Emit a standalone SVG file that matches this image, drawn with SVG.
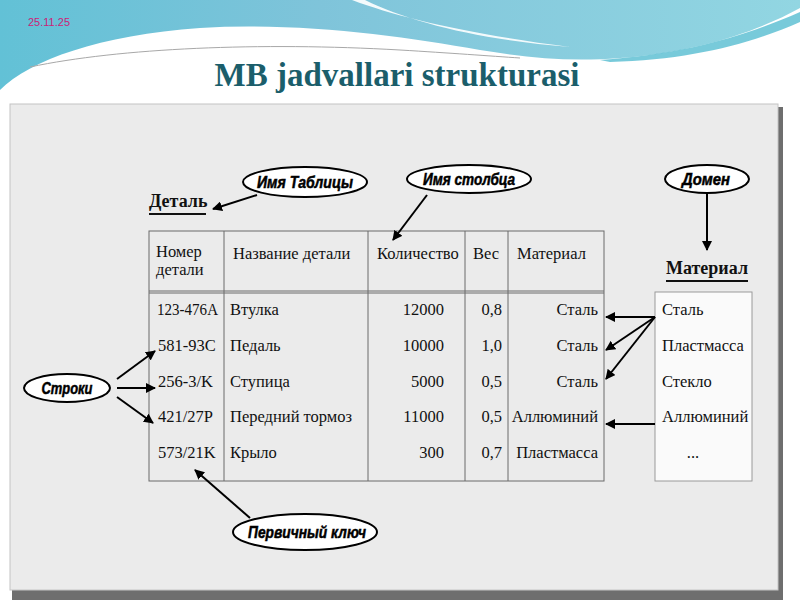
<svg xmlns="http://www.w3.org/2000/svg" width="800" height="600" viewBox="0 0 800 600">
<defs>
<linearGradient id="sky" x1="0" y1="0" x2="1" y2="0">
<stop offset="0" stop-color="#62c1d6"/>
<stop offset="0.4" stop-color="#7fc4da"/>
<stop offset="1" stop-color="#92d6e2"/>
</linearGradient>
<marker id="ah" viewBox="0 0 10 10" refX="9" refY="5" markerWidth="5" markerHeight="5" orient="auto" markerUnits="strokeWidth">
<path d="M0,0 L10,5 L0,10 Z" fill="#000"/>
</marker>
<style>
.conn{stroke:#000;stroke-width:2;fill:none;marker-end:url(#ah)}
.ell{fill:#fff;stroke:#000;stroke-width:2}
.et{font-family:"Liberation Sans",Arial,sans-serif;font-weight:bold;font-style:italic;font-size:16px;fill:#000;stroke:#000;stroke-width:0.5;text-anchor:middle}
.tt{font-family:"Liberation Serif","Times New Roman",serif;font-size:16.5px;fill:#111}
.r{text-anchor:end}
.lbl{font-family:"Liberation Serif","Times New Roman",serif;font-size:18px;font-weight:bold;fill:#111}
.grid{stroke:#6a6a6a;stroke-width:1;fill:none}
</style>
</defs>
<!-- background -->
<rect x="0" y="0" width="800" height="600" fill="#ffffff"/>
<path d="M0,0 H800 V8 C760,30 700,52 620,58 C570,62 530,58 480,50 C400,36 300,22 200,28 C100,35 30,60 0,90 Z" fill="url(#sky)"/>
<path d="M600,60 C690,54 750,34 800,12 V22 C750,44 690,60 610,62 Z" fill="#3fb3ca" opacity="0.7"/>
<path d="M352,0 C400,18 470,34 570,47 C480,40 410,22 365,0 Z" fill="#ffffff" opacity="0.9"/>
<path d="M30,67 C120,48 260,42 400,50 C450,53 490,56 520,58" fill="none" stroke="#a8a8a8" stroke-width="1"/>
<text x="28" y="26" font-family="'Liberation Sans',Arial,sans-serif" font-size="11" fill="#cc2277">25.11.25</text>
<text x="397" y="86" text-anchor="middle" font-family="'Liberation Serif','Times New Roman',serif" font-size="33" font-weight="bold" fill="#1b5e6b">MB jadvallari strukturasi</text>
<!-- panel -->
<rect x="12" y="107" width="771" height="493" fill="#6e6e6e"/>
<rect x="10" y="104" width="768" height="486" fill="#ebebeb" stroke="#c4c4c4" stroke-width="1"/>
<!-- labels -->
<g id="detal">
<text class="lbl" x="149" y="207">Деталь</text>
<line x1="149" y1="214" x2="206" y2="214" stroke="#111" stroke-width="2"/>
</g>
<g id="material-label">
<text class="lbl" x="666" y="274">Материал</text>
<line x1="666" y1="281" x2="748" y2="281" stroke="#111" stroke-width="2"/>
</g>
<!-- table -->
<g id="table">
<rect x="149" y="231" width="455" height="250" fill="#ececec" class="grid"/>
<line class="grid" x1="149" y1="291" x2="604" y2="291"/>
<line class="grid" x1="149" y1="293" x2="604" y2="293"/>
<line class="grid" x1="224" y1="231" x2="224" y2="481"/>
<line class="grid" x1="368" y1="231" x2="368" y2="481"/>
<line class="grid" x1="465" y1="231" x2="465" y2="481"/>
<line class="grid" x1="508" y1="231" x2="508" y2="481"/>
<text class="tt" x="156" y="257" font-size="15">Номер</text>
<text class="tt" x="156" y="275" font-size="15">детали</text>
<text class="tt" x="233" y="259">Название детали</text>
<text class="tt" x="377" y="259">Количество</text>
<text class="tt" x="473" y="259">Вес</text>
<text class="tt" x="517" y="259">Материал</text>
<text class="tt" x="157" y="315" textLength="61" lengthAdjust="spacingAndGlyphs">123-476A</text>
<text class="tt" x="158" y="351">581-93C</text>
<text class="tt" x="158" y="387">256-3/K</text>
<text class="tt" x="158" y="422">421/27P</text>
<text class="tt" x="158" y="458">573/21K</text>
<text class="tt" x="230" y="315">Втулка</text>
<text class="tt" x="230" y="351">Педаль</text>
<text class="tt" x="230" y="387">Ступица</text>
<text class="tt" x="230" y="422">Передний тормоз</text>
<text class="tt" x="230" y="458">Крыло</text>
<text class="tt r" x="444" y="315">12000</text>
<text class="tt r" x="444" y="351">10000</text>
<text class="tt r" x="444" y="387">5000</text>
<text class="tt r" x="444" y="422">11000</text>
<text class="tt r" x="444" y="458">300</text>
<text class="tt r" x="502" y="315">0,8</text>
<text class="tt r" x="502" y="351">1,0</text>
<text class="tt r" x="502" y="387">0,5</text>
<text class="tt r" x="502" y="422">0,5</text>
<text class="tt r" x="502" y="458">0,7</text>
<text class="tt r" x="598" y="315">Сталь</text>
<text class="tt r" x="598" y="351">Сталь</text>
<text class="tt r" x="598" y="387">Сталь</text>
<text class="tt r" x="598" y="422">Аллюминий</text>
<text class="tt r" x="598" y="458">Пластмасса</text>
</g>
<g id="domain">
<rect x="655" y="292" width="97" height="189" fill="#fafafa" stroke="#9a9a9a" stroke-width="1"/>
<text class="tt" x="662" y="315">Сталь</text>
<text class="tt" x="662" y="351">Пластмасса</text>
<text class="tt" x="662" y="387">Стекло</text>
<text class="tt" x="662" y="422">Аллюминий</text>
<text class="tt" x="693" y="458" text-anchor="middle">...</text>
</g>
<!-- callouts -->
<g id="imya-tablicy">
<ellipse class="ell" cx="305" cy="182" rx="62" ry="15"/>
<text class="et" x="305" y="188" textLength="96" lengthAdjust="spacingAndGlyphs">Имя Таблицы</text>
</g>
<g id="imya-stolbca">
<ellipse class="ell" cx="469" cy="179" rx="62" ry="14"/>
<text class="et" x="469" y="185" textLength="92" lengthAdjust="spacingAndGlyphs">Имя столбца</text>
</g>
<g id="domen">
<ellipse class="ell" cx="707" cy="179" rx="42" ry="14"/>
<text class="et" x="706" y="185" textLength="48" lengthAdjust="spacingAndGlyphs">Домен</text>
</g>
<g id="stroki">
<ellipse class="ell" cx="67" cy="388" rx="43" ry="14"/>
<text class="et" x="67" y="394" textLength="51" lengthAdjust="spacingAndGlyphs">Строки</text>
</g>
<g id="pervichnyy-klyuch">
<ellipse class="ell" cx="305" cy="532" rx="72" ry="18"/>
<text class="et" x="307" y="538" textLength="118" lengthAdjust="spacingAndGlyphs">Первичный ключ</text>
</g>
<!-- connectors -->
<g id="connectors">
<line class="conn" x1="257" y1="195" x2="213" y2="209"/>
<line class="conn" x1="427" y1="195" x2="393" y2="240"/>
<line class="conn" x1="707" y1="193" x2="707" y2="250"/>
<line class="conn" x1="117" y1="379" x2="155" y2="351"/>
<line class="conn" x1="117" y1="388" x2="155" y2="388"/>
<line class="conn" x1="117" y1="397" x2="153" y2="423"/>
<line class="conn" x1="250" y1="518" x2="195" y2="470"/>
<line class="conn" x1="655" y1="317" x2="606" y2="317"/>
<line class="conn" x1="655" y1="317" x2="606" y2="350"/>
<line class="conn" x1="655" y1="317" x2="606" y2="379"/>
<line class="conn" x1="655" y1="424" x2="606" y2="424"/>
</g>
</svg>
